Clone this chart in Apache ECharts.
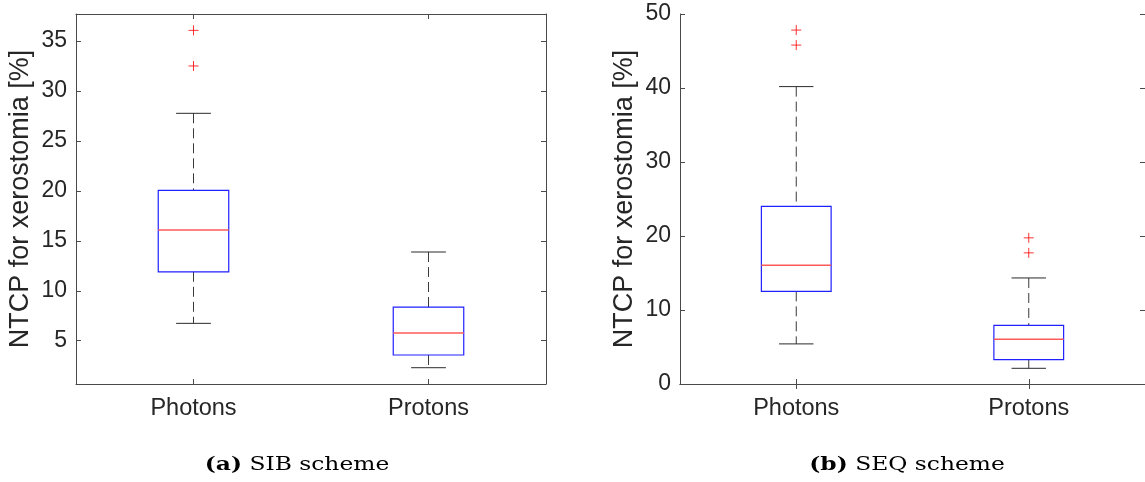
<!DOCTYPE html>
<html>
<head>
<meta charset="utf-8">
<script src="https://cdn.jsdelivr.net/npm/echarts@6/dist/echarts.min.js"></script>
<style>
html,body{margin:0;padding:0;background:#fff;}
#chart{width:1145px;height:482px;}
</style>
</head>
<body>
<div id="chart"></div>
<script>
// ---- data ----
var categories = ['Photons', 'Protons'];
// [lower whisker, Q1, median, Q3, upper whisker]
var sibPhotons = [6.74, 11.9, 16.08, 20.05, 27.76];
var sibProtons = [2.3, 3.57, 5.77, 8.37, 13.88];
var sibPhotonOutliers = [32.5, 36.06];
var sibProtonOutliers = [];
var seqPhotons = [5.42, 12.52, 16.04, 24.0, 40.19];
var seqProtons = [2.12, 3.3, 6.05, 7.91, 14.33];
var seqPhotonOutliers = [45.8, 47.83];
var seqProtonOutliers = [17.72, 19.75];
var sibTicks = [5, 10, 15, 20, 25, 30, 35];
var seqTicks = [0, 10, 20, 30, 40, 50];
var yTitle = 'NTCP for xerostomia [%]';
var captionA = ['(a)', 'SIB scheme'];
var captionB = ['(b)', 'SEQ scheme'];

// ---- styling ----
var FONT = "'Liberation Sans', Arial, Helvetica, sans-serif";
var TXT = '#262626';
var AX = '#4a4a4a';

function boxData(a, b) {
  return [[0].concat(a), [1].concat(b)];
}
function outlierData(a, b) {
  var r = [];
  a.forEach(function (v) { r.push([0, v]); });
  b.forEach(function (v) { r.push([1, v]); });
  return r;
}

function renderBox(params, api) {
  var xi = api.value(0);
  var lo = api.coord([xi, api.value(1)]);
  var q1 = api.coord([xi, api.value(2)]);
  var md = api.coord([xi, api.value(3)]);
  var q3 = api.coord([xi, api.value(4)]);
  var hi = api.coord([xi, api.value(5)]);
  var band = api.size([1, 0])[0];
  var bw = band * 0.3;
  var cw = band * 0.148;
  var cx = lo[0];
  var dash = { stroke: '#3a3a3a', lineWidth: 1, lineDash: [10, 5] };
  var solid = { stroke: '#2a2a2a', lineWidth: 1 };
  return {
    type: 'group',
    children: [
      { type: 'line', shape: { x1: cx, y1: hi[1], x2: cx, y2: q3[1] }, style: dash },
      { type: 'line', shape: { x1: cx, y1: q1[1], x2: cx, y2: lo[1] }, style: dash },
      { type: 'line', shape: { x1: cx - cw / 2, y1: hi[1], x2: cx + cw / 2, y2: hi[1] }, style: solid },
      { type: 'line', shape: { x1: cx - cw / 2, y1: lo[1], x2: cx + cw / 2, y2: lo[1] }, style: solid },
      { type: 'rect', shape: { x: cx - bw / 2, y: q3[1], width: bw, height: q1[1] - q3[1] },
        style: { fill: 'none', stroke: '#2020ff', lineWidth: 1.2 } },
      { type: 'line', shape: { x1: cx - bw / 2, y1: md[1], x2: cx + bw / 2, y2: md[1] },
        style: { stroke: '#ff5a5a', lineWidth: 1.4 } }
    ]
  };
}

function xAxes(gi) {
  var base = {
    type: 'category', data: categories, gridIndex: gi, boundaryGap: true,
    axisLine: { show: true, lineStyle: { color: AX, width: 1 } },
    axisTick: { show: true, inside: true, alignWithLabel: true, length: 5, lineStyle: { color: AX } },
    splitLine: { show: false }
  };
  var bottom = Object.assign({}, base, {
    position: 'bottom',
    axisLabel: { fontFamily: FONT, fontSize: 23.5, color: TXT, margin: 13 }
  });
  var top = Object.assign({}, base, { position: 'top', axisLabel: { show: false } });
  return [bottom, top];
}

function yAxes(gi, min, max, ticks) {
  var base = {
    type: 'value', gridIndex: gi, min: min, max: max,
    axisLine: { show: true, lineStyle: { color: AX, width: 1 } },
    axisTick: { show: true, inside: true, length: 5, lineStyle: { color: AX }, customValues: ticks },
    splitLine: { show: false }
  };
  var left = Object.assign({}, base, {
    position: 'left',
    name: yTitle, nameLocation: 'middle', nameGap: 42, nameRotate: 90,
    nameTextStyle: { fontFamily: FONT, fontSize: 27, color: TXT },
    axisLabel: { fontFamily: FONT, fontSize: 23, color: TXT, margin: 9, customValues: ticks }
  });
  var right = Object.assign({}, base, { position: 'right', axisLabel: { show: false } });
  return [left, right];
}

var xa = xAxes(0).concat(xAxes(1));
var ya = yAxes(0, 0.67, 37.7, sibTicks).concat(yAxes(1, 0, 50, seqTicks));

var plusPath = 'path://M0,5L10,5M5,0L5,10';

function captionText(cap, cx) {
  return {
    type: 'text', x: cx, y: 465, scaleX: 1.23, originX: 0, originY: 0,
    style: {
      text: '{b|' + cap[0] + '} ' + cap[1],
      x: 0, y: 0,
      textAlign: 'center', textVerticalAlign: 'middle',
      fontFamily: "'DejaVu Serif', 'Liberation Serif', serif", fontSize: 19, fill: '#000',
      rich: { b: { fontFamily: "'DejaVu Serif', 'Liberation Serif', serif", fontWeight: 'bold', fontSize: 19, fill: '#000' } }
    }
  };
}

var option = {
  backgroundColor: '#fff',
  animation: false,
  grid: [
    { left: 76, top: 14, width: 470, height: 370 },
    { left: 680, top: 14, width: 470, height: 370 }
  ],
  xAxis: xa,
  yAxis: ya,
  series: [
    { type: 'custom', xAxisIndex: 0, yAxisIndex: 0, renderItem: renderBox,
      data: boxData(sibPhotons, sibProtons), encode: { x: 0, y: [1, 2, 3, 4, 5] } },
    { type: 'scatter', xAxisIndex: 0, yAxisIndex: 0, symbol: plusPath, symbolSize: 10,
      itemStyle: { color: 'none', borderColor: '#ff0000', borderWidth: 1 },
      data: outlierData(sibPhotonOutliers, sibProtonOutliers) },
    { type: 'custom', xAxisIndex: 2, yAxisIndex: 2, renderItem: renderBox,
      data: boxData(seqPhotons, seqProtons), encode: { x: 0, y: [1, 2, 3, 4, 5] } },
    { type: 'scatter', xAxisIndex: 2, yAxisIndex: 2, symbol: plusPath, symbolSize: 10,
      itemStyle: { color: 'none', borderColor: '#ff0000', borderWidth: 1 },
      data: outlierData(seqPhotonOutliers, seqProtonOutliers) }
  ],
  graphic: [captionText(captionA, 297), captionText(captionB, 907)]
};

var chart = echarts.init(document.getElementById('chart'), null, { renderer: 'canvas' });
chart.setOption(option);
</script>
</body>
</html>
